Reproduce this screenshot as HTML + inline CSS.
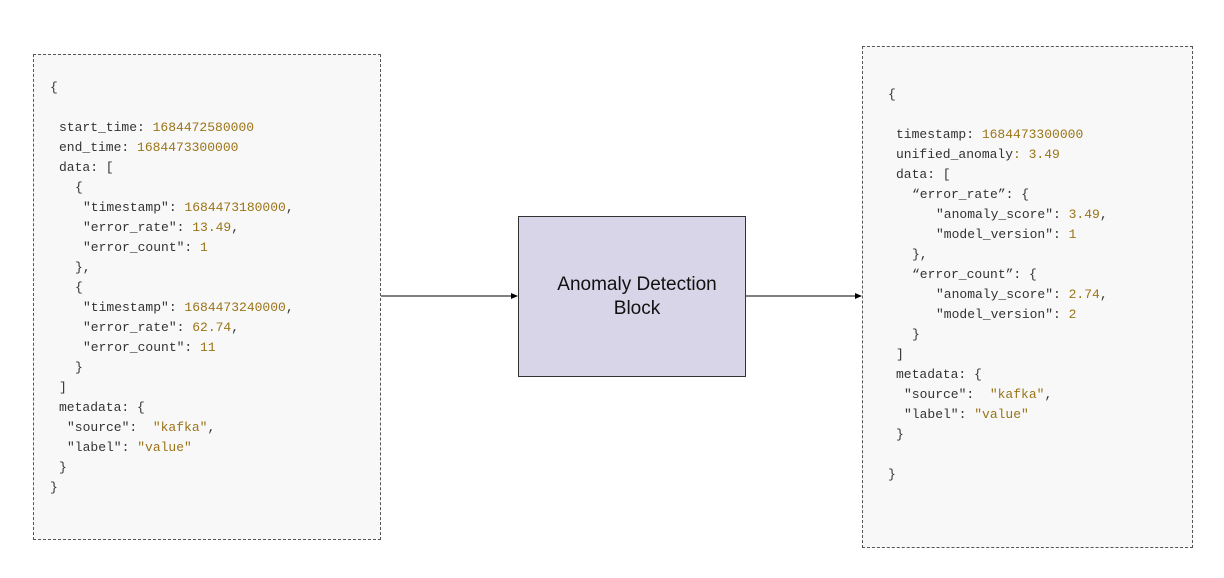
<!DOCTYPE html>
<html><head><meta charset="utf-8"><style>
body{margin:0;width:1224px;height:578px;background:#fff;position:relative;overflow:hidden}
.box{position:absolute;border:1px dashed #555;background:#f8f8f8;box-sizing:border-box}
.t{position:absolute;font-family:"Liberation Mono",monospace;font-size:13px;line-height:18px;color:#333;white-space:pre}
.n{color:#9a7418}
</style></head><body>
<div class="box" style="left:33px;top:54px;width:348px;height:486px"></div>
<div class="box" style="left:862px;top:46px;width:331px;height:502px"></div>
<div style="position:absolute;left:518px;top:216px;width:228px;height:161px;box-sizing:border-box;border:1px solid #333;background:#d9d5e8"></div>
<div style="position:absolute;left:518px;top:273px;width:238px;text-align:center;font-family:'Liberation Sans',Arial,sans-serif;font-size:19px;line-height:24px;color:#111">Anomaly Detection<br>Block</div>
<svg width="1224" height="578" style="position:absolute;left:0;top:0">
<line x1="381" y1="296" x2="512" y2="296" stroke="#000" stroke-width="1"/>
<polygon points="518,296 511,293 511,299" fill="#000"/>
<line x1="746" y1="296" x2="856" y2="296" stroke="#000" stroke-width="1"/>
<polygon points="862,296 855,293 855,299" fill="#000"/>
</svg>
<div class="t" style="left:50px;top:79px">{</div>
<div class="t" style="left:59px;top:119px">start_time: <span class="n">1684472580000</span></div>
<div class="t" style="left:59px;top:139px">end_time: <span class="n">1684473300000</span></div>
<div class="t" style="left:59px;top:159px">data: [</div>
<div class="t" style="left:75px;top:179px">{</div>
<div class="t" style="left:83px;top:199px">"timestamp": <span class="n">1684473180000</span>,</div>
<div class="t" style="left:83px;top:219px">"error_rate": <span class="n">13.49</span>,</div>
<div class="t" style="left:83px;top:239px">"error_count": <span class="n">1</span></div>
<div class="t" style="left:75px;top:259px">},</div>
<div class="t" style="left:75px;top:279px">{</div>
<div class="t" style="left:83px;top:299px">"timestamp": <span class="n">1684473240000</span>,</div>
<div class="t" style="left:83px;top:319px">"error_rate": <span class="n">62.74</span>,</div>
<div class="t" style="left:83px;top:339px">"error_count": <span class="n">11</span></div>
<div class="t" style="left:75px;top:359px">}</div>
<div class="t" style="left:59px;top:379px">]</div>
<div class="t" style="left:59px;top:399px">metadata: {</div>
<div class="t" style="left:67px;top:419px">"source":  <span class="n">"kafka"</span>,</div>
<div class="t" style="left:67px;top:439px">"label": <span class="n">"value"</span></div>
<div class="t" style="left:59px;top:459px">}</div>
<div class="t" style="left:50px;top:479px">}</div>

<div class="t" style="left:888px;top:86px">{</div>
<div class="t" style="left:896px;top:126px">timestamp: <span class="n">1684473300000</span></div>
<div class="t" style="left:896px;top:146px">unified_anomaly<span class="n">: 3.49</span></div>
<div class="t" style="left:896px;top:166px">data: [</div>
<div class="t" style="left:912px;top:186px">“error_rate”: {</div>
<div class="t" style="left:936px;top:206px">"anomaly_score": <span class="n">3.49</span>,</div>
<div class="t" style="left:936px;top:226px">"model_version": <span class="n">1</span></div>
<div class="t" style="left:912px;top:246px">},</div>
<div class="t" style="left:912px;top:266px">“error_count”: {</div>
<div class="t" style="left:936px;top:286px">"anomaly_score": <span class="n">2.74</span>,</div>
<div class="t" style="left:936px;top:306px">"model_version": <span class="n">2</span></div>
<div class="t" style="left:912px;top:326px">}</div>
<div class="t" style="left:896px;top:346px">]</div>
<div class="t" style="left:896px;top:366px">metadata: {</div>
<div class="t" style="left:904px;top:386px">"source":  <span class="n">"kafka"</span>,</div>
<div class="t" style="left:904px;top:406px">"label": <span class="n">"value"</span></div>
<div class="t" style="left:896px;top:426px">}</div>
<div class="t" style="left:888px;top:466px">}</div>
</body></html>
